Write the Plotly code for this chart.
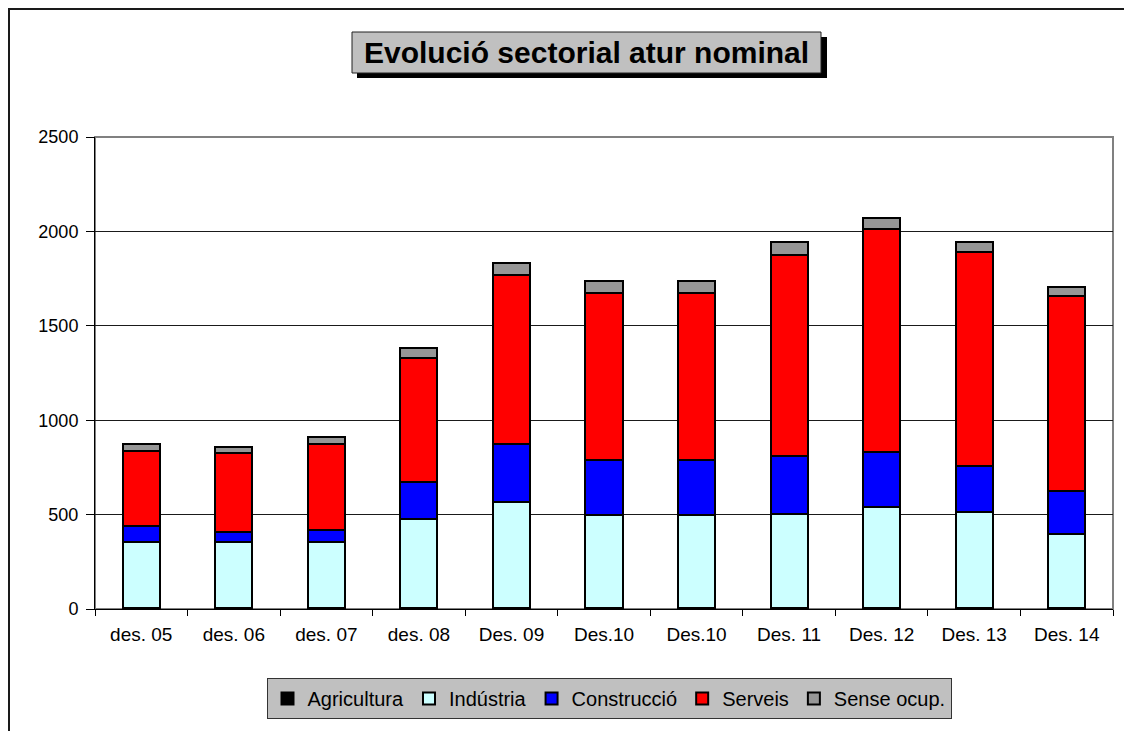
import plotly.graph_objects as go

# periods (the 2010 label appears twice in the source chart)
periodes = ["des. 05", "des. 06", "des. 07", "des. 08", "Des. 09", "Des.10",
            "Des.10", "Des. 11", "Des. 12", "Des. 13", "Des. 14"]

agricultura = [3, 3, 3, 4, 4, 4, 4, 4, 5, 4, 4]
industria = [352, 352, 352, 471, 561, 496, 496, 501, 534, 508, 392]
construccio = [86, 53, 63, 196, 309, 289, 289, 307, 294, 247, 227]
serveis = [396, 417, 458, 657, 895, 883, 883, 1061, 1178, 1130, 1035]
sense_ocup = [37, 33, 33, 53, 65, 64, 64, 73, 58, 57, 46]

series = [
    ("Agricultura", agricultura, "#000000"),
    ("Indústria", industria, "#CCFFFF"),
    ("Construcció", construccio, "#0000FF"),
    ("Serveis", serveis, "#FF0000"),
    ("Sense ocup.", sense_ocup, "#969696"),
]

# the page body adds an 8px offset, so the figure is sized to fit the window
OFF = 8
W, H = 1124, 723
L, T = 87, 129
pw, ph = 1018, 472
R, B = W - L - pw, H - T - ph


def px_x(x):
    # screen pixel -> paper x
    return (x - OFF - L) / pw


def px_y(y):
    # screen pixel -> paper y
    return (T + ph - (y - OFF)) / ph


xpos = list(range(len(periodes)))

fig = go.Figure()
for name, vals, col in series:
    fig.add_trace(go.Bar(
        name=name, x=xpos, y=vals,
        marker=dict(color=col, line=dict(color="black", width=2)),
    ))

fig.update_layout(
    width=W, height=H,
    barmode="stack", bargap=0.6,
    margin=dict(l=L, r=R, t=T, b=B, pad=0),
    plot_bgcolor="white", paper_bgcolor="white",
    font=dict(family="Liberation Sans, Arial", color="black"),
    showlegend=True,
    legend=dict(
        orientation="h", traceorder="normal",
        x=px_x(609), xanchor="center", y=px_y(678), yanchor="top",
        bgcolor="#C0C0C0", bordercolor="#333333", borderwidth=1,
        font=dict(size=20, family="Liberation Sans, Arial"),
        itemwidth=30,
    ),
    xaxis=dict(
        range=[-0.5, len(periodes) - 0.5],
        tickmode="array", tickvals=xpos, ticktext=periodes,
        ticks="", showgrid=False, zeroline=False,
        showline=True, linecolor="black", linewidth=1,
        tickfont=dict(size=19), ticklabelstandoff=8,
        minor=dict(tickmode="linear", tick0=0.5, dtick=1,
                   ticks="outside", ticklen=6, tickcolor="black", showgrid=False),
    ),
    yaxis=dict(
        range=[0, 2500], dtick=500,
        ticks="outside", ticklen=8, tickcolor="black",
        showgrid=True, gridcolor="#1a1a1a", gridwidth=1,
        zeroline=False, showline=True, linecolor="black", linewidth=1,
        tickfont=dict(size=18), ticklabelstandoff=4,
    ),
)

shapes = [
    # outer chart frame (only the left and top edges fall inside the image)
    dict(type="rect", xref="paper", yref="paper",
         x0=px_x(9), x1=px_x(1160), y0=px_y(760), y1=px_y(9),
         line=dict(color="#1a1a1a", width=2), layer="below"),
    # plot area border
    dict(type="rect", xref="paper", yref="paper", x0=0, x1=1, y0=0, y1=1,
         line=dict(color="#808080", width=2), layer="below"),
    # title shadow and box
    dict(type="rect", xref="paper", yref="paper",
         x0=px_x(357), x1=px_x(827), y0=px_y(78), y1=px_y(37),
         fillcolor="black", line=dict(width=0)),
    dict(type="rect", xref="paper", yref="paper",
         x0=px_x(352), x1=px_x(821), y0=px_y(73), y1=px_y(32),
         fillcolor="#C0C0C0", line=dict(color="#222222", width=1)),
]
fig.update_layout(shapes=shapes)

fig.add_annotation(
    text="<b>Evolució sectorial atur nominal</b>",
    xref="paper", yref="paper", x=px_x(586.5), y=px_y(52.5),
    xanchor="center", yanchor="middle", showarrow=False,
    font=dict(size=30, family="Liberation Sans, Arial", color="black"),
)

fig.write_html("out.html")
